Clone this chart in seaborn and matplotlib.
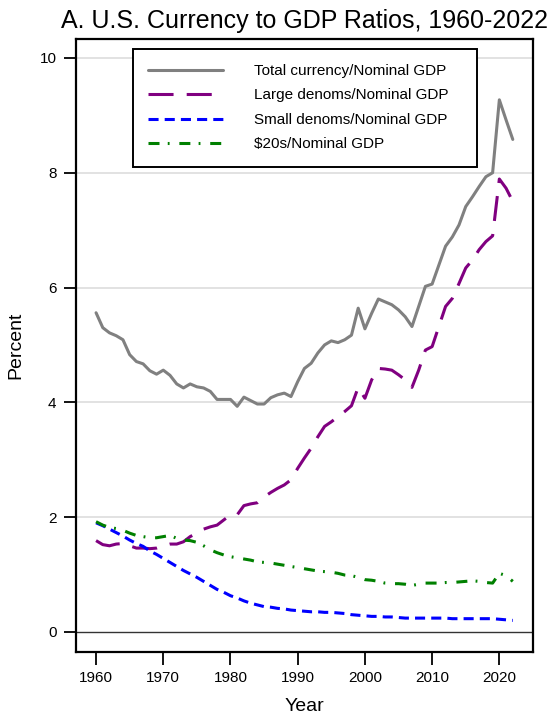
import numpy as np
import pandas as pd
import seaborn as sns
import matplotlib.pyplot as plt

years = list(range(1960, 2023))

total_currency = [5.56, 5.30, 5.21, 5.16, 5.09, 4.83, 4.71, 4.67, 4.55, 4.49,
                  4.56, 4.47, 4.32, 4.25, 4.32, 4.27, 4.25, 4.19, 4.05, 4.05,
                  4.05, 3.93, 4.09, 4.03, 3.97, 3.97, 4.08, 4.13, 4.16, 4.10,
                  4.36, 4.59, 4.68, 4.86, 5.00, 5.07, 5.04, 5.09, 5.17, 5.64,
                  5.28, 5.55, 5.80, 5.75, 5.70, 5.61, 5.49, 5.32, 5.67, 6.02,
                  6.06, 6.39, 6.72, 6.88, 7.09, 7.41, 7.58, 7.76, 7.93, 8.00,
                  9.27, 8.92, 8.58]

large_denoms = [1.59, 1.52, 1.50, 1.53, 1.54, 1.50, 1.46, 1.46, 1.45, 1.46,
                1.50, 1.53, 1.53, 1.57, 1.66, 1.72, 1.79, 1.83, 1.86, 1.95,
                2.04, 2.04, 2.20, 2.23, 2.25, 2.35, 2.43, 2.50, 2.56, 2.65,
                2.85, 3.03, 3.20, 3.40, 3.58, 3.66, 3.75, 3.84, 3.94, 4.26,
                4.07, 4.39, 4.59, 4.58, 4.56, 4.48, 4.39, 4.26, 4.56, 4.91,
                4.97, 5.32, 5.67, 5.81, 6.07, 6.34, 6.48, 6.66, 6.80, 6.90,
                7.89, 7.73, 7.50]

small_denoms = [1.90, 1.85, 1.79, 1.73, 1.67, 1.60, 1.54, 1.49, 1.41, 1.35,
                1.28, 1.21, 1.14, 1.07, 1.01, 0.95, 0.88, 0.81, 0.74, 0.69,
                0.63, 0.59, 0.54, 0.50, 0.47, 0.44, 0.43, 0.41, 0.40, 0.38,
                0.37, 0.36, 0.35, 0.35, 0.34, 0.34, 0.33, 0.32, 0.30, 0.29,
                0.28, 0.27, 0.27, 0.26, 0.26, 0.25, 0.24, 0.24, 0.24, 0.24,
                0.24, 0.24, 0.24, 0.23, 0.23, 0.23, 0.23, 0.23, 0.23, 0.23,
                0.22, 0.21, 0.20]

twenties = [1.92, 1.86, 1.82, 1.80, 1.77, 1.72, 1.68, 1.66, 1.64, 1.64,
            1.66, 1.68, 1.63, 1.60, 1.59, 1.56, 1.50, 1.43, 1.38, 1.34,
            1.31, 1.29, 1.27, 1.25, 1.22, 1.21, 1.20, 1.18, 1.16, 1.14,
            1.12, 1.10, 1.08, 1.06, 1.05, 1.04, 1.02, 0.99, 0.98, 0.95,
            0.91, 0.90, 0.88, 0.85, 0.84, 0.84, 0.83, 0.81, 0.83, 0.85,
            0.85, 0.85, 0.86, 0.86, 0.87, 0.88, 0.89, 0.88, 0.86, 0.85,
            1.02, 0.98, 0.88]

labels = ['Total currency/Nominal GDP', 'Large denoms/Nominal GDP',
          'Small denoms/Nominal GDP', '$20s/Nominal GDP']

sns.set_style('white')
plt.rcParams['font.family'] = ['Liberation Sans', 'DejaVu Sans']
plt.rcParams['text.color'] = 'black'
plt.rcParams['axes.labelcolor'] = 'black'

df = pd.DataFrame({'Year': years, 'total': total_currency, 'large': large_denoms,
                   'small': small_denoms, 'twenties': twenties})

fig = plt.figure(figsize=(5.54, 7.22), dpi=100)
ax = fig.add_axes([0.137, 0.097, 0.825, 0.849])

lw = 2.2
# gridlines first so the data sits on top
for v in [2, 4, 6, 8, 10]:
    ax.axhline(v, color='#dddddd', lw=1.2, zorder=0)
ax.axhline(0, color='#333333', lw=1.0, zorder=1)

sns.lineplot(data=df, x='Year', y='total', ax=ax, color='#808080', lw=lw,
             linestyle='-', label=labels[0])
sns.lineplot(data=df, x='Year', y='large', ax=ax, color='#800080', lw=lw,
             linestyle=(0, (8.2, 4.3)), label=labels[1])
sns.lineplot(data=df, x='Year', y='small', ax=ax, color='#0000ff', lw=lw,
             linestyle=(0, (3.3, 2.0)), label=labels[2])
sns.lineplot(data=df, x='Year', y='twenties', ax=ax, color='#008000', lw=lw,
             linestyle=(0, (3.6, 2.7, 0.6, 3.2)), label=labels[3])

ax.set_xlim(1957, 2025)
ax.set_ylim(-0.35, 10.33)
ax.set_xticks(range(1960, 2021, 10))
ax.set_yticks([0, 2, 4, 6, 8, 10])
ax.tick_params(axis='both', direction='out', length=9, width=1.3, pad=5,
               labelsize=11, colors='black', left=True, bottom=True)
for s in ax.spines.values():
    s.set_linewidth(1.6)
    s.set_color('black')

ax.set_xlabel('Year', fontsize=14, labelpad=9)
ax.set_ylabel('Percent', fontsize=14, labelpad=11)
ax.set_title('A. U.S. Currency to GDP Ratios, 1960-2022', fontsize=18, pad=8,
             color='black')

leg = ax.legend(loc='upper left', bbox_to_anchor=(0.125, 0.793, 0.752, 0.191),
                mode='expand', borderaxespad=0, fontsize=11, handlelength=4.9,
                handletextpad=2.0, labelspacing=0.68, borderpad=1.0,
                fancybox=False, framealpha=1, edgecolor='black')
leg.get_frame().set_linewidth(1.4)
for t in leg.get_texts():
    t.set_color('black')

fig.savefig('out.png', dpi=100)
